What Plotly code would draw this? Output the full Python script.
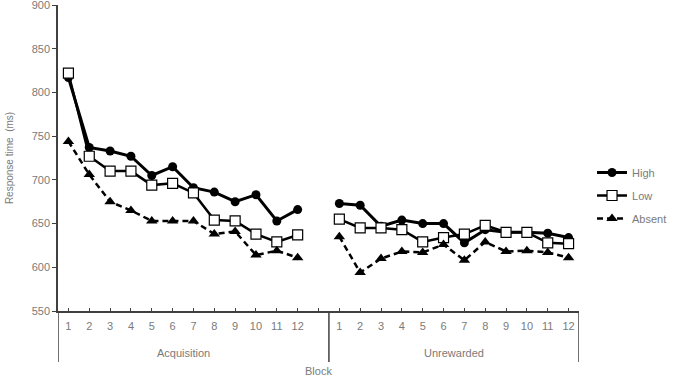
import plotly.graph_objects as go

blocks = [str(i) for i in range(1, 13)]
phases = ["Acquisition", "Unrewarded"]

high_acq = [817, 737, 733, 727, 705, 715, 691, 686, 675, 683, 653, 666]
high_unr = [673, 671, 647, 654, 650, 650, 628, 643, 640, 640, 639, 634]
low_acq = [822, 727, 710, 710, 694, 696, 685, 654, 653, 638, 629, 637]
low_unr = [655, 645, 645, 643, 629, 634, 638, 648, 640, 640, 628, 627]
abs_acq = [744, 706, 675, 665, 653, 653, 653, 638, 641, 614, 619, 611]
abs_unr = [635, 594, 610, 618, 617, 626, 608, 629, 618, 619, 617, 611]

# positions on a single category axis: 1..12 acquisition, 13 gap, 14..25 unrewarded
xpos = list(range(1, 13)) + [13] + list(range(14, 26))
ticktext = blocks + [""] + blocks

def join(a, b):
    return a + [None] + b

TXT = "#7a7a7a"
FONT = "Liberation Sans"

fig = go.Figure()
fig.add_trace(go.Scatter(
    x=xpos, y=join(high_acq, high_unr), name="High", mode="lines+markers",
    line=dict(color="black", width=3), legendgroup="h",
    marker=dict(symbol="circle", size=9, color="black"), connectgaps=False))
fig.add_trace(go.Scatter(
    x=xpos, y=join(low_acq, low_unr), name="Low", mode="lines+markers",
    line=dict(color="black", width=2.5), legendgroup="l",
    marker=dict(symbol="square", size=10, color="white", line=dict(color="black", width=1.2)),
    connectgaps=False))
fig.add_trace(go.Scatter(
    x=xpos, y=join(abs_acq, abs_unr), name="Absent", mode="lines+markers",
    line=dict(color="black", width=2.5, dash="6px,4px"), legendgroup="a",
    marker=dict(symbol="triangle-up", size=10, color="black"), connectgaps=False))

fig.update_xaxes(
    range=[0.5, 25.5], tickmode="array", tickvals=xpos, ticktext=ticktext,
    ticks="inside", ticklen=3, tickwidth=1, tickcolor="#404040", automargin=False,
    showline=True, linecolor="#404040", linewidth=1.5, showgrid=False, zeroline=False,
    tickfont=dict(family=FONT, size=11, color=TXT), ticklabelstandoff=4,
)
fig.update_yaxes(
    range=[550, 900], dtick=50, ticks="outside", ticklen=4, tickcolor="#404040",
    showline=True, linecolor="#404040", linewidth=1.5, showgrid=False, zeroline=False,
    tickfont=dict(family=FONT, size=11, color=TXT), ticklabeloverflow="allow", automargin=False,
    title=dict(text="Response time  (ms)", font=dict(family=FONT, size=10, color=TXT), standoff=16),
)

PH = 306
below = -(362 - 311) / PH
for xv in [0.5, 13.5, 25.5]:
    fig.add_shape(type="line", xref="x", yref="paper", x0=xv, x1=xv, y0=0, y1=below,
                  line=dict(color="#404040", width=1.5))

fig.add_annotation(x=6.5, xref="x", y=-(353 - 311) / PH, yref="paper", text=phases[0],
                   xanchor="center", yanchor="middle",
                   showarrow=False, font=dict(family=FONT, size=11, color=TXT))
fig.add_annotation(x=19.5, xref="x", y=-(353 - 311) / PH, yref="paper", text=phases[1],
                   xanchor="center", yanchor="middle",
                   showarrow=False, font=dict(family=FONT, size=11, color=TXT))
fig.add_annotation(x=13, xref="x", y=-(371 - 311) / PH, yref="paper", text="Block",
                   xanchor="center", yanchor="middle",
                   showarrow=False, font=dict(family=FONT, size=11, color=TXT))

fig.update_layout(
    width=678, height=378, margin=dict(l=58, r=99, t=5, b=67),
    plot_bgcolor="white", paper_bgcolor="white",
    font=dict(family=FONT, size=11, color=TXT),
    legend=dict(x=1.025, y=0.5, xanchor="left", yanchor="top", tracegroupgap=4,
                font=dict(family=FONT, size=11, color=TXT), bgcolor="rgba(0,0,0,0)"),
)

fig.write_html("out.html")
